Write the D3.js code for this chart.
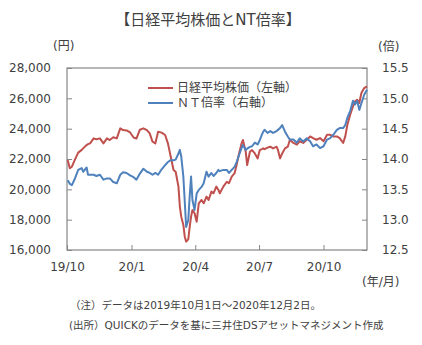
<!DOCTYPE html>
<html><head><meta charset="utf-8">
<script src="https://cdn.jsdelivr.net/npm/d3@7"></script>
<style>
body{margin:0;background:#fff;}
svg text{font-family:"DejaVu Sans","Noto Sans CJK JP",sans-serif;fill:#404040;}
</style></head>
<body><svg id="c" width="422" height="345"></svg>
<script>
const dates = [
"2019-10-02","2019-10-05","2019-10-08","2019-10-12","2019-10-17","2019-10-22","2019-10-24","2019-10-29","2019-10-31",
"2019-11-03","2019-11-08","2019-11-12","2019-11-17","2019-11-22","2019-11-27",
"2019-12-01","2019-12-06","2019-12-11","2019-12-16","2019-12-20","2019-12-25","2019-12-30",
"2020-01-04","2020-01-08","2020-01-13","2020-01-18","2020-01-23","2020-01-27","2020-01-31",
"2020-02-04","2020-02-08","2020-02-13","2020-02-18","2020-02-22","2020-02-26",
"2020-03-01","2020-03-04","2020-03-08","2020-03-10","2020-03-12","2020-03-15","2020-03-17","2020-03-19","2020-03-22","2020-03-24","2020-03-26","2020-03-28","2020-03-31",
"2020-04-03","2020-04-06","2020-04-10","2020-04-13","2020-04-17","2020-04-20","2020-04-24","2020-04-27",
"2020-05-01","2020-05-04","2020-05-06","2020-05-11","2020-05-16","2020-05-19","2020-05-23","2020-05-27","2020-05-30",
"2020-06-02","2020-06-06","2020-06-08","2020-06-12","2020-06-14","2020-06-18","2020-06-21","2020-06-25","2020-06-29",
"2020-07-02","2020-07-05","2020-07-07","2020-07-09","2020-07-13","2020-07-17","2020-07-21","2020-07-26","2020-07-28","2020-07-31",
"2020-08-03","2020-08-07","2020-08-11","2020-08-14","2020-08-19","2020-08-24","2020-08-28",
"2020-09-02","2020-09-07","2020-09-12","2020-09-16","2020-09-21","2020-09-26",
"2020-10-01","2020-10-06","2020-10-10","2020-10-15","2020-10-20","2020-10-24","2020-10-29",
"2020-11-01","2020-11-04","2020-11-08","2020-11-12","2020-11-15","2020-11-18","2020-11-21","2020-11-24","2020-11-28",
"2020-12-02"];
const nikkei = [
21930,21390,21490,21930,22420,22600,22700,22920,22980,
23030,23360,23300,23360,23030,23360,
23250,23430,23360,24020,23910,23880,23750,
23420,23350,23930,24020,23900,23690,23140,
23030,23800,23740,23580,23030,22150,
21270,21160,20180,18860,18200,17650,16880,16550,16700,17500,18200,18640,18420,
17870,19080,19300,19080,19520,19300,19850,19740,
20180,19960,19740,20180,20500,20400,20840,21050,21600,
22260,23030,23250,22480,21600,22480,22590,22370,22040,
22590,22650,22700,22650,22750,22810,22700,22810,22600,22040,
22370,22700,22810,23270,23060,22950,23170,
23060,23270,23490,23380,23270,23380,
23170,23600,23600,23490,23490,23380,23060,
23490,24260,24920,25470,25800,25910,25690,26350,26680,
26790];
const ntRatio = [
13.65,13.59,13.57,13.67,13.82,13.85,13.79,13.86,13.74,
13.74,13.74,13.72,13.74,13.66,13.68,
13.68,13.62,13.60,13.74,13.78,13.77,13.73,
13.70,13.66,13.76,13.84,13.79,13.77,13.74,
13.77,13.74,13.83,13.90,13.95,13.98,
13.98,13.99,14.09,14.15,14.04,13.71,13.30,12.88,12.99,13.38,13.71,13.32,13.16,
13.43,13.49,13.54,13.60,13.79,13.71,13.77,13.72,
13.77,13.82,13.80,13.82,13.82,13.77,13.82,13.87,13.95,
14.05,14.18,14.23,14.15,14.17,14.20,14.21,14.27,14.24,
14.31,14.40,14.45,14.48,14.43,14.46,14.43,14.46,14.48,14.51,
14.56,14.45,14.37,14.32,14.32,14.27,14.34,
14.29,14.34,14.29,14.21,14.24,14.18,
14.21,14.32,14.34,14.40,14.48,14.51,14.51,
14.56,14.68,14.79,14.96,14.90,14.96,14.81,14.92,15.06,
15.14];
const xTickDates = ["2019-10-01","2020-01-01","2020-04-01","2020-07-01","2020-10-01"];
const xTickLabels = ["19/10","20/1","20/4","20/7","20/10"];
const leftTicks = [16000,18000,20000,22000,24000,26000,28000];
const rightTicks = [12.5,13.0,13.5,14.0,14.5,15.0,15.5];
const seriesNames = ["日経平均株価（左軸）","ＮＴ倍率（右軸）"];
const title = "【日経平均株価とNT倍率】";
const notes = ["（注）データは2019年10月1日～2020年12月2日。","(出所）QUICKのデータを基に三井住DSアセットマネジメント作成"];

const parse = d3.timeParse("%Y-%m-%d");
const svg = d3.select("#c");
const L=67,R=367,T=68,B=250;
const x = d3.scaleTime().domain([parse("2019-10-01"),parse("2020-12-02")]).range([L,R]);
const yL = d3.scaleLinear().domain([16000,28000]).range([B,T]);
const yR = d3.scaleLinear().domain([12.5,15.5]).range([B,T]);
const axisCol = "#868686";

svg.append("text").attr("x",208).attr("y",25).attr("text-anchor","middle")
  .style("font-size","15px").style("fill","#404040").text(title);

function styleAxis(g){
  g.select(".domain").remove();
  g.selectAll(".tick line").attr("stroke",axisCol);
  g.selectAll(".tick text").style("font-size","12px").style("fill","#404040");
}
svg.append("g").attr("transform",`translate(${L},0)`)
  .call(d3.axisLeft(yL).tickValues(leftTicks).tickSizeInner(-5).tickSizeOuter(0).tickPadding(16).tickFormat(d3.format(",")))
  .call(styleAxis);
svg.append("g").attr("transform",`translate(${R},0)`)
  .call(d3.axisRight(yR).tickValues(rightTicks).tickSizeInner(-5).tickSizeOuter(0).tickPadding(15).tickFormat(d3.format(".1f")))
  .call(styleAxis);
svg.append("g").attr("transform",`translate(0,${B})`)
  .call(d3.axisBottom(x).tickValues(xTickDates.map(parse)).tickSizeInner(-5).tickSizeOuter(0).tickPadding(12)
    .tickFormat((d,i)=>xTickLabels[i]))
  .call(styleAxis);

svg.append("rect").attr("x",L).attr("y",T).attr("width",R-L).attr("height",B-T)
  .attr("fill","none").attr("stroke",axisCol).attr("stroke-width",1.2);

const red="#C0504D", blue="#4F81BD";
const idx = d3.range(dates.length);
svg.append("path").datum(idx).attr("fill","none").attr("stroke",red).attr("stroke-width",2).attr("stroke-linejoin","round")
  .attr("d",d3.line().x(i=>x(parse(dates[i]))).y(i=>yL(nikkei[i])));
svg.append("path").datum(idx).attr("fill","none").attr("stroke",blue).attr("stroke-width",2).attr("stroke-linejoin","round")
  .attr("d",d3.line().x(i=>x(parse(dates[i]))).y(i=>yR(ntRatio[i])));

// legend
const lg = svg.append("g");
[[red,88],[blue,103]].forEach((c,i)=>{
  lg.append("line").attr("x1",148).attr("x2",173).attr("y1",c[1]).attr("y2",c[1]).attr("stroke",c[0]).attr("stroke-width",2);
  lg.append("text").attr("x",177).attr("y",c[1]+4).style("font-size","12px").text(seriesNames[i]);
});

svg.append("text").attr("x",53).attr("y",50).style("font-size","12px").text("(円)");
svg.append("text").attr("x",378).attr("y",51).style("font-size","12px").text("(倍)");
svg.append("text").attr("x",362).attr("y",286).style("font-size","12px").text("(年/月)");
svg.append("text").attr("x",70).attr("y",309).style("font-size","10.5px").text(notes[0]);
svg.append("text").attr("x",69).attr("y",329).style("font-size","10.5px").text(notes[1]);
</script></body></html>
